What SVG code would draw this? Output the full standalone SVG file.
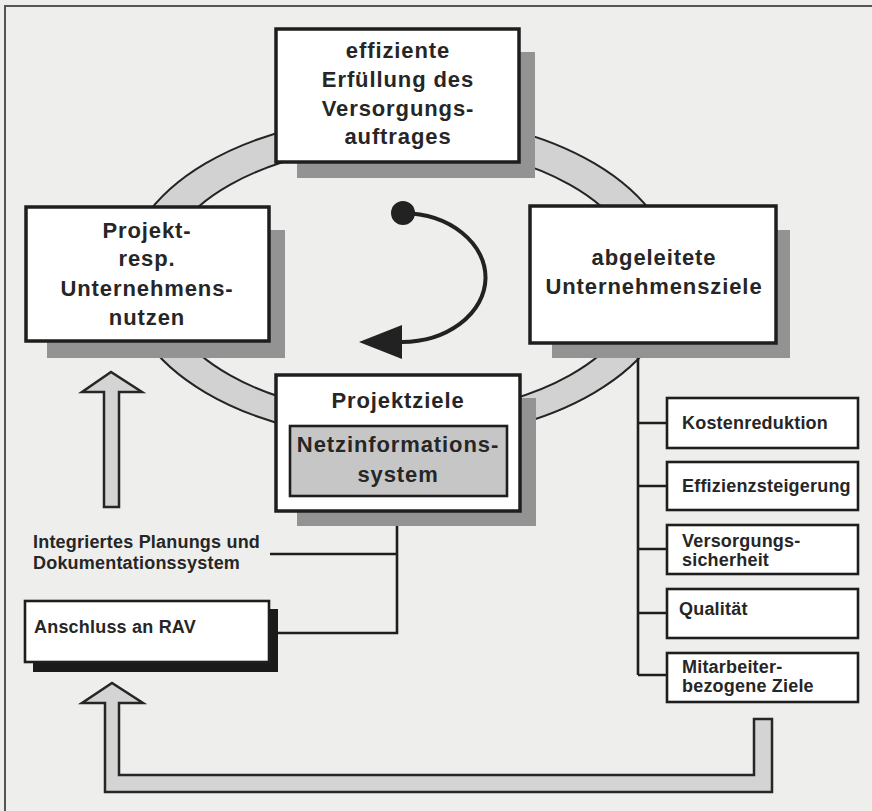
<svg xmlns="http://www.w3.org/2000/svg" width="872" height="811" viewBox="0 0 872 811">
<style>
.bg{fill:#eeeeec}
.frame{stroke:#555;stroke-width:2;fill:none}
.shadow{fill:#939393}
.box{fill:#ffffff;stroke:#1e1e1e;stroke-width:3.5}
.sbox{fill:#ffffff;stroke:#1e1e1e;stroke-width:2.6}
.inner{fill:#c6c6c6;stroke:#1e1e1e;stroke-width:2.6}
.ring{fill:#d2d2d2;stroke:#242424;stroke-width:2;fill-rule:evenodd}
.big{font-family:"Liberation Sans",Arial,Helvetica,sans-serif;font-weight:bold;font-size:22px;letter-spacing:0.9px;fill:#262626;text-anchor:middle}
.small{font-family:"Liberation Sans",Arial,Helvetica,sans-serif;font-weight:bold;font-size:18px;letter-spacing:0.2px;fill:#262626}
.line{stroke:#1e1e1e;stroke-width:2.6;fill:none}
.arr{fill:#d4d4d4;stroke:#262626;stroke-width:2.5;stroke-linejoin:miter}
</style>
<rect class="bg" x="0" y="0" width="872" height="811"/>
<path class="frame" d="M5 811 V6 H872"/>
<path class="ring" d="M125 278 A275 162 0 1 0 675 278 A275 162 0 1 0 125 278 Z M160 280 A240 135 0 1 0 640 280 A240 135 0 1 0 160 280 Z"/>
<g id="connectors">
<path class="line" d="M638 343 V675 M638 423 H667 M638 486 H667 M638 549 H667 M638 613 H667 M638 675 H667"/>
<path class="line" d="M397 511 V633 H278 M270 554 H397"/>
<path d="M403 213 A84 64.5 0 0 1 400 342" fill="none" stroke="#222" stroke-width="4"/>
<circle cx="403" cy="213" r="12" fill="#222"/>
<polygon points="359,342 402,325 402,359" fill="#222"/>
<path class="arr" d="M104 507 V392 H82 L111 372 L142 392 H119 V507 Z"/>
<path class="arr" d="M105 792 V703 H82 L112 683 L143 703 H119 V775 H754 V719 H772 V792 Z"/>
</g>
<g id="top">
<rect class="shadow" x="297" y="52" width="238" height="126"/>
<rect class="box" x="276" y="29" width="243" height="133"/>
<text class="big" x="398" y="58">effiziente</text>
<text class="big" x="398" y="87">Erfüllung des</text>
<text class="big" x="398" y="116">Versorgungs-</text>
<text class="big" x="398" y="144">auftrages</text>
</g>
<g id="left">
<rect class="shadow" x="47" y="230" width="238" height="128"/>
<rect class="box" x="26" y="207" width="243" height="134"/>
<text class="big" x="147" y="238">Projekt-</text>
<text class="big" x="147" y="266">resp.</text>
<text class="big" x="147" y="296">Unternehmens-</text>
<text class="big" x="147" y="325">nutzen</text>
</g>
<g id="right">
<rect class="shadow" x="552" y="230" width="238" height="128"/>
<rect class="box" x="530" y="206" width="246" height="137"/>
<text class="big" x="654" y="265">abgeleitete</text>
<text class="big" x="654" y="294">Unternehmensziele</text>
</g>
<g id="center">
<rect class="shadow" x="297" y="398" width="239" height="128"/>
<rect class="box" x="276" y="375" width="244" height="136"/>
<text class="big" x="398" y="408">Projektziele</text>
<rect class="inner" x="290" y="426" width="217" height="70"/>
<text class="big" x="398" y="452">Netzinformations-</text>
<text class="big" x="398" y="482">system</text>
</g>
<g id="k1"><rect class="sbox" x="667" y="398" width="191" height="50"/><text class="small" x="682" y="429">Kostenreduktion</text></g>
<g id="k2"><rect class="sbox" x="667" y="462" width="191" height="48"/><text class="small" x="682" y="492">Effizienzsteigerung</text></g>
<g id="k3"><rect class="sbox" x="667" y="525" width="191" height="49"/><text class="small" x="682" y="547">Versorgungs-</text><text class="small" x="682" y="566">sicherheit</text></g>
<g id="k4"><rect class="sbox" x="667" y="589" width="191" height="49"/><text class="small" x="679" y="615">Qualität</text></g>
<g id="k5"><rect class="sbox" x="667" y="653" width="191" height="49"/><text class="small" x="682" y="673">Mitarbeiter-</text><text class="small" x="682" y="692">bezogene Ziele</text></g>
<g id="ipds"><text class="small" x="33" y="548">Integriertes Planungs und</text><text class="small" x="33" y="569">Dokumentationssystem</text></g>
<g id="rav">
<rect x="33" y="609" width="245" height="63" fill="#1a1a1a"/>
<rect class="sbox" x="25" y="601" width="244" height="61"/>
<text class="small" x="34" y="633">Anschluss an RAV</text>
</g>
</svg>
